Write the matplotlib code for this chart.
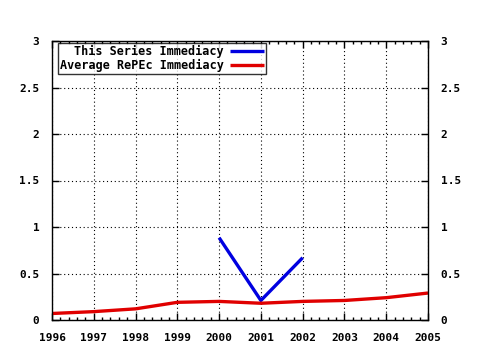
import matplotlib
matplotlib.use("Agg")
import matplotlib.pyplot as plt
from matplotlib.ticker import MultipleLocator, FuncFormatter

years_avg = [1996, 1997, 1998, 1999, 2000, 2001, 2002, 2003, 2004, 2005]
avg_values = [0.07, 0.09, 0.12, 0.19, 0.20, 0.18, 0.20, 0.21, 0.24, 0.29]
years_series = [2000, 2001, 2002]
series_values = [0.885, 0.21, 0.67]
series_label = "This Series Immediacy"
avg_label = "Average RePEc Immediacy"

plt.rcParams['font.family'] = ['DejaVu Sans Mono']
plt.rcParams['font.weight'] = 'bold'
plt.rcParams['font.size'] = 8

fig = plt.figure(figsize=(4.8, 3.5), dpi=100)
ax = fig.add_axes([52/480, 30/350, 376/480, 279/350])

ax.plot(years_series, series_values, color='#0000e0', lw=2.4, label=series_label, solid_capstyle='butt')
ax.plot(years_avg, avg_values, color='#e00000', lw=2.4, label=avg_label, solid_capstyle='butt')

ax.set_xlim(1996, 2005)
ax.set_ylim(0, 3)
ax.xaxis.set_major_locator(MultipleLocator(1))
ax.xaxis.set_minor_locator(MultipleLocator(0.2))
ax.yaxis.set_major_locator(MultipleLocator(0.5))
ax.yaxis.set_minor_locator(MultipleLocator(0.1))
ax.xaxis.set_major_formatter(FuncFormatter(lambda v, p: f"{int(round(v))}"))
ax.yaxis.set_major_formatter(FuncFormatter(lambda v, p: f"{v:g}"))

ax.tick_params(which='both', direction='in', top=True, right=True, labelright=True,
               colors='black', width=1)
ax.tick_params(which='major', length=5)
ax.tick_params(axis='x', which='major', pad=9.5)
ax.tick_params(axis='y', which='major', pad=9)
ax.tick_params(which='minor', length=2)
ax.tick_params(axis='y', which='minor', length=0)
ax.grid(True, which='major', color='black', linestyle=(0, (1, 2.5)), lw=0.8)
for s in ax.spines.values():
    s.set_linewidth(1)
    s.set_color('black')

leg = ax.legend(loc='upper left', bbox_to_anchor=(6/376, 1 - 2/279), markerfirst=False,
                frameon=True, fancybox=False,
                borderpad=0.15, labelspacing=0.1, handlelength=2.9, handletextpad=0.5,
                borderaxespad=0, edgecolor='black',
                prop={'family': 'DejaVu Sans Mono', 'weight': 'bold', 'size': 8.5})
leg.get_frame().set_linewidth(1)
for t in leg.get_texts():
    t.set_ha('right')
leg._legend_box.align = "right"

fig.savefig("out.png", dpi=100)
